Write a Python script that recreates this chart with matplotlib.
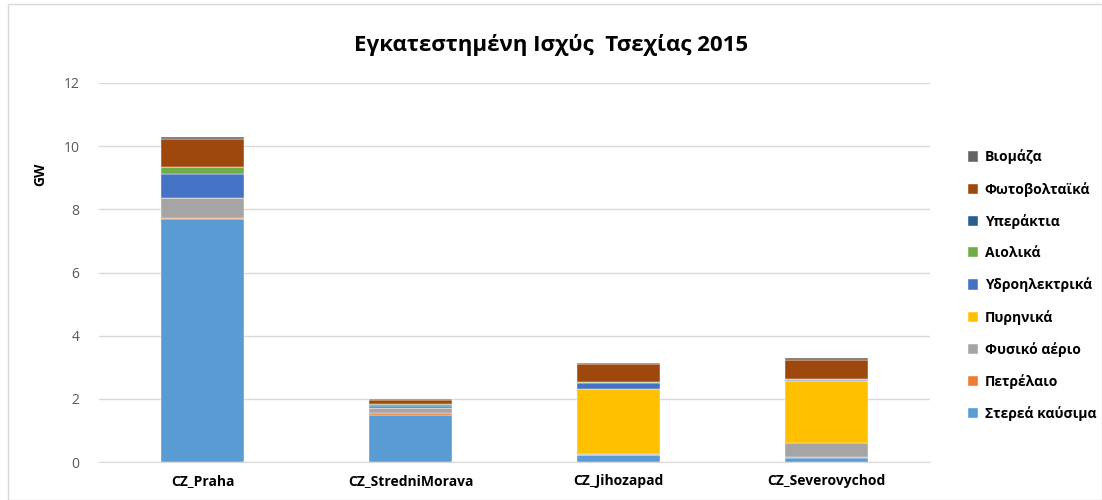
import numpy as np
import matplotlib.pyplot as plt
from matplotlib.patches import Rectangle

plt.rcParams['font.family'] = ['Open Sans', 'DejaVu Sans']

regions = ["CZ_Praha", "CZ_StredniMorava", "CZ_Jihozapad", "CZ_Severovychod"]

# GW per source
solid = [7.68, 1.50, 0.23, 0.14]
oil = [0.06, 0.05, 0.00, 0.02]
gas = [0.61, 0.17, 0.03, 0.45]
nuclear = [0.00, 0.00, 2.05, 1.94]
hydro = [0.78, 0.05, 0.19, 0.04]
wind = [0.20, 0.06, 0.02, 0.04]
offshore = [0.00, 0.00, 0.00, 0.00]
pv = [0.90, 0.12, 0.57, 0.60]
biomass = [0.06, 0.05, 0.05, 0.06]

series = [
    ("Στερεά καύσιμα", solid, "#5B9BD5"),
    ("Πετρέλαιο", oil, "#ED7D31"),
    ("Φυσικό αέριο", gas, "#A5A5A5"),
    ("Πυρηνικά", nuclear, "#FFC000"),
    ("Υδροηλεκτρικά", hydro, "#4472C4"),
    ("Αιολικά", wind, "#70AD47"),
    ("Υπεράκτια", offshore, "#255E91"),
    ("Φωτοβολταϊκά", pv, "#9E480E"),
    ("Βιομάζα", biomass, "#636363"),
]

fig = plt.figure(figsize=(11.02, 5.0), dpi=100)
ax = fig.add_axes([99 / 1102, 38 / 500, 831 / 1102, 379 / 500])

x = np.arange(len(regions))
bottom = np.zeros(len(regions))
handles = []
for name, vals, col in series:
    b = ax.bar(x, vals, 0.4, bottom=bottom, color=col, label=name,
               edgecolor="white", linewidth=0.3, zorder=3)
    handles.append(b)
    bottom += np.array(vals)

ax.set_xlim(-0.5, 3.5)
ax.set_ylim(0, 12)
ax.set_yticks(range(0, 13, 2))
ax.set_xticks(x)
ax.set_xticklabels(regions, fontsize=10, fontweight="bold", color="#000000")
ax.tick_params(axis="y", labelsize=10, colors="#595959", length=0, pad=14)
ax.tick_params(axis="x", length=0, pad=9)
ax.grid(axis="y", color="#D9D9D9", linewidth=1, zorder=0)
for s in ["top", "right", "left"]:
    ax.spines[s].set_visible(False)
ax.spines["bottom"].set_color("#D9D9D9")
ax.set_ylabel("GW", fontsize=10, fontweight="bold")
ax.yaxis.set_label_coords(-0.062, 0.76)

fig.text(0.5, 0.91, "Εγκατεστημένη Ισχύς  Τσεχίας 2015", ha="center",
         va="center", fontsize=16, fontweight="bold")

leg = fig.legend(handles[::-1], [s[0] for s in series][::-1],
                 loc="upper left", bbox_to_anchor=(955 / 1102, 1 - 137 / 500),
                 frameon=False, prop={"weight": "bold", "size": 10},
                 handlelength=0.75, handleheight=0.75, handletextpad=0.5,
                 labelspacing=1.25)

fig.patches.append(Rectangle((8 / 1102, 0), 1 - 8 / 1102, 1 - 4 / 500,
                             transform=fig.transFigure, fill=False,
                             edgecolor="#D9D9D9", linewidth=1))

fig.savefig("out.png")
